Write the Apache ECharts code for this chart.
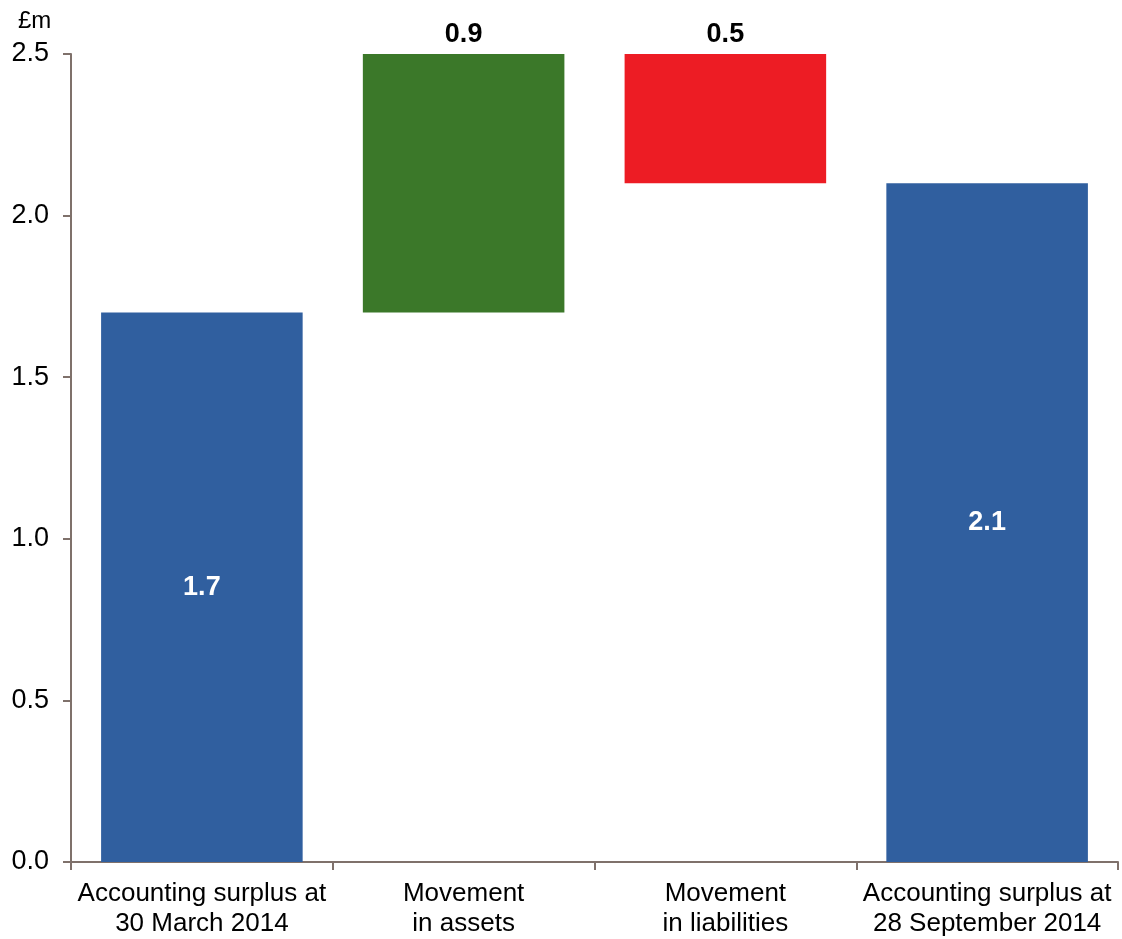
<!DOCTYPE html>
<html>
<head>
<meta charset="utf-8">
<script src="https://cdn.jsdelivr.net/npm/echarts@6/dist/echarts.min.js"></script>
<style>
  html, body { margin: 0; padding: 0; background: #fff; }
  #chart { width: 1122px; height: 939px; }
</style>
</head>
<body>
<div id="chart"></div>
<script>
const categories = ['Accounting surplus at\n30 March 2014', 'Movement\nin assets', 'Movement\nin liabilities', 'Accounting surplus at\n28 September 2014']
// invisible base of each bar (waterfall)
const baseValues = [0, 1.7, 2.1, 0]
const barValues = [1.7, 0.9, 0.5, 2.1]
const barColors = ['#305f9f', '#3b7829', '#ed1c24', '#305f9f']
const yTicks = { min: 0, max: 2.5, interval: 0.5 }

const axisColor = '#7f716b'
const font = 'Liberation Sans, Arial, sans-serif'

const chart = echarts.init(document.getElementById('chart'))
chart.setOption({
  animation: false,
  title: {
    text: '£m',
    left: 13,
    top: 4,
    textStyle: { fontFamily: font, fontSize: 24, fontWeight: 'normal', color: '#000' }
  },
  grid: { left: 71, right: 4, top: 54, bottom: 77 },
  xAxis: {
    type: 'category',
    data: categories,
    axisLine: { lineStyle: { color: axisColor, width: 2 } },
    axisTick: { show: true, length: 8, lineStyle: { color: axisColor, width: 2 } },
    axisLabel: { interval: 0, fontFamily: font, fontSize: 26, color: '#000', lineHeight: 30, margin: 17 }
  },
  yAxis: {
    type: 'value',
    min: yTicks.min,
    max: yTicks.max,
    interval: yTicks.interval,
    splitLine: { show: false },
    axisLine: { show: true, lineStyle: { color: axisColor, width: 2 } },
    axisTick: { show: true, length: 8, lineStyle: { color: axisColor, width: 2 } },
    axisLabel: {
      fontFamily: font, fontSize: 27, color: '#000', margin: 22,
      padding: [3, 0, 0, 0],
      formatter: v => v.toFixed(1)
    }
  },
  series: [
    {
      type: 'bar',
      stack: 'w',
      silent: true,
      barWidth: '77%',
      itemStyle: { color: 'transparent' },
      data: baseValues
    },
    {
      type: 'bar',
      stack: 'w',
      clip: true,
      barWidth: '77%',
      data: barValues.map((v, i) => {
        const inside = i === 0 || i === 3
        return {
          value: v,
          itemStyle: { color: barColors[i] },
          label: {
            show: true,
            position: inside ? 'inside' : 'top',
            distance: 6,
            color: inside ? '#fff' : '#000',
            fontFamily: font,
            fontWeight: 'bold',
            fontSize: 27,
            formatter: '{c}'
          }
        }
      })
    }
  ]
})
</script>
</body>
</html>
